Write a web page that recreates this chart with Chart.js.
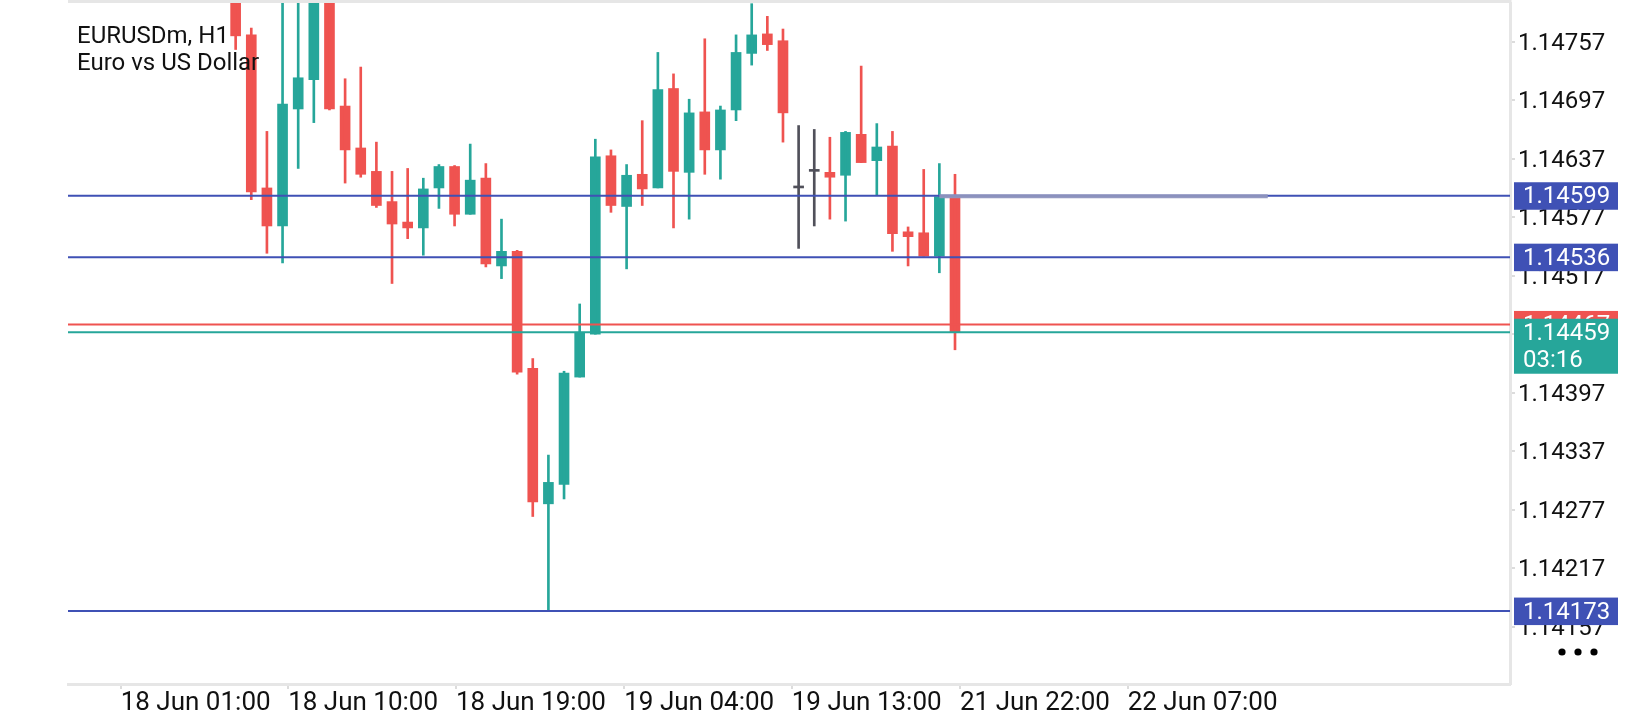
<!DOCTYPE html>
<html>
<head>
<meta charset="utf-8">
<script src="https://cdn.jsdelivr.net/npm/chart.js@4.4.0/dist/chart.umd.min.js"></script>
<style>
  html, body { margin: 0; padding: 0; background: #fff; }
  #chart { display: block; }
</style>
</head>
<body>
<canvas id="chart" width="1640" height="720"></canvas>
<script>
// EURUSDm H1 candles (one entry per hourly bar)
const opens = [1.14820, 1.14764, 1.14607, 1.14568, 1.14688, 1.14718, 1.14815, 1.14691, 1.14648, 1.14624,
  1.14593, 1.14572, 1.14566, 1.14607, 1.14629, 1.14580, 1.14617, 1.14527, 1.14542, 1.14422,
  1.14283, 1.14303, 1.14413, 1.14457, 1.14640, 1.14588, 1.14621, 1.14607, 1.14709, 1.14623,
  1.14685, 1.14646, 1.14687, 1.14745, 1.14765, 1.14758, 1.14607, 1.14624, 1.14623, 1.14620,
  1.14662, 1.14635, 1.14650, 1.14562, 1.14561, 1.14537, 1.14598];
const highs = [1.14830, 1.14771, 1.14665, 1.14810, 1.14815, 1.14825, 1.14822, 1.14719, 1.14731, 1.14654,
  1.14624, 1.14627, 1.14617, 1.14631, 1.14630, 1.14652, 1.14632, 1.14575, 1.14543, 1.14432,
  1.14333, 1.14419, 1.14488, 1.14657, 1.14646, 1.14631, 1.14676, 1.14746, 1.14724, 1.14698,
  1.14760, 1.14691, 1.14764, 1.14796, 1.14783, 1.14770, 1.14671, 1.14667, 1.14659, 1.14665,
  1.14732, 1.14673, 1.14665, 1.14567, 1.14626, 1.14632, 1.14621];
const lows = [1.14749, 1.14595, 1.14540, 1.14530, 1.14627, 1.14674, 1.14687, 1.14612, 1.14618, 1.14587,
  1.14509, 1.14555, 1.14538, 1.14586, 1.14568, 1.14580, 1.14526, 1.14514, 1.14416, 1.14270,
  1.14173, 1.14288, 1.14413, 1.14457, 1.14582, 1.14524, 1.14589, 1.14607, 1.14566, 1.14575,
  1.14621, 1.14616, 1.14676, 1.14733, 1.14748, 1.14654, 1.14545, 1.14568, 1.14575, 1.14573,
  1.14633, 1.14600, 1.14542, 1.14527, 1.14537, 1.14520, 1.14441];
const closes = [1.14763, 1.14603, 1.14568, 1.14693, 1.14720, 1.14812, 1.14688, 1.14646, 1.14621, 1.14589,
  1.14570, 1.14566, 1.14606, 1.14629, 1.14580, 1.14615, 1.14529, 1.14542, 1.14418, 1.14285,
  1.14305, 1.14417, 1.14459, 1.14639, 1.14589, 1.14620, 1.14606, 1.14708, 1.14624, 1.14684,
  1.14646, 1.14687, 1.14746, 1.14764, 1.14754, 1.14684, 1.14607, 1.14624, 1.14618, 1.14664,
  1.14633, 1.14649, 1.14560, 1.14557, 1.14537, 1.14598, 1.14459];

// time axis: label positions in bar slots (bar 0 = first visible candle)
const timeTickPos = [-7.35, 3.36, 14.09, 24.85, 35.56, 46.32, 57.04];
const timeTickLabels = ['18 Jun 01:00', '18 Jun 10:00', '18 Jun 19:00', '19 Jun 04:00',
  '19 Jun 13:00', '21 Jun 22:00', '22 Jun 07:00'];
const visibleFrom = -10.72;
const visibleTo = 81.49;

// price axis
const priceTicks = [1.14157, 1.14217, 1.14277, 1.14337, 1.14397, 1.14457,
  1.14517, 1.14577, 1.14637, 1.14697, 1.14757];
const priceMin = 1.140982;
const priceMax = 1.147967;

// horizontal objects on the chart
const levelPrices = [1.14599, 1.14536, 1.14173];
const askPrice = 1.14467;
const bidPrice = 1.14459;
const barTimeLeft = '03:16';
const trendFrom = 45;
const trendTo = 66;
const trendPrice = 1.14599;

const symbolTitle = ['EURUSDm, H1', 'Euro vs US Dollar'];

const UP = '#26a69a';
const DOWN = '#ef5350';
const FLAT = '#50505a';
const LEVEL = '#3f51b5';
const FRAME = '#e6e6e6';
const FONT = 'Roboto';

const idx = opens.map((_, i) => i);
const candleColors = idx.map(i => closes[i] > opens[i] ? UP : (closes[i] < opens[i] ? DOWN : FLAT));

const overlay = {
  id: 'overlay',
  afterDatasetsDraw(chart) {
    const { ctx, chartArea: area, scales: { x, y } } = chart;
    ctx.save();
    ctx.beginPath();
    ctx.rect(area.left, area.top, area.right - area.left, area.bottom - area.top);
    ctx.clip();

    const hline = (price, color, width) => {
      const py = y.getPixelForValue(price);
      ctx.strokeStyle = color;
      ctx.lineWidth = width;
      ctx.beginPath();
      ctx.moveTo(area.left, py);
      ctx.lineTo(area.right, py);
      ctx.stroke();
    };
    levelPrices.forEach(p => hline(p, LEVEL, 2));
    hline(askPrice, DOWN, 2);
    hline(bidPrice, UP, 2);

    // trend line object
    const ty = y.getPixelForValue(trendPrice);
    ctx.strokeStyle = 'rgba(142,148,190,0.95)';
    ctx.lineWidth = 4;
    ctx.beginPath();
    ctx.moveTo(x.getPixelForValue(trendFrom), ty + 0.5);
    ctx.lineTo(x.getPixelForValue(trendTo), ty + 0.5);
    ctx.stroke();
    ctx.restore();

    // symbol caption
    ctx.save();
    ctx.fillStyle = '#111';
    ctx.font = '24px ' + FONT;
    ctx.textBaseline = 'alphabetic';
    ctx.fillText(symbolTitle[0], area.left + 9, 43);
    ctx.fillText(symbolTitle[1], area.left + 9, 70);
    ctx.restore();
  },
  afterDraw(chart) {
    const { ctx, chartArea: area, scales: { y } } = chart;
    ctx.save();
    // top frame line
    ctx.strokeStyle = FRAME;
    ctx.lineWidth = 3;
    ctx.beginPath();
    ctx.moveTo(area.left, 1.5);
    ctx.lineTo(area.right + 1.5, 1.5);
    ctx.stroke();

    const box = (price, lines, color) => {
      const py = y.getPixelForValue(price);
      const lh = 27.5;
      ctx.fillStyle = color;
      ctx.fillRect(area.right + 4, py - 13.5, 104, lh * lines.length);
      ctx.fillStyle = '#fff';
      ctx.font = '24px ' + FONT;
      ctx.textBaseline = 'middle';
      ctx.textAlign = 'left';
      lines.forEach((t, k) => ctx.fillText(t, area.right + 13, py + 1.5 + k * lh));
    };
    levelPrices.forEach(p => box(p, [p.toFixed(5)], LEVEL));
    box(askPrice, [askPrice.toFixed(5)], DOWN);
    box(bidPrice, [bidPrice.toFixed(5), barTimeLeft], UP);

    // menu dots
    ctx.fillStyle = '#000';
    [52, 68, 84].forEach(dx => {
      ctx.beginPath();
      ctx.arc(area.right + dx, 652, 3.6, 0, Math.PI * 2);
      ctx.fill();
    });
    ctx.restore();
  }
};

new Chart(document.getElementById('chart'), {
  type: 'bar',
  data: {
    datasets: [
      {
        label: 'wicks',
        data: idx.map(i => ({ x: i, y: [lows[i], highs[i]] })),
        backgroundColor: candleColors,
        barThickness: 2,
        grouped: false,
        clip: 0
      },
      {
        label: 'bodies',
        data: idx.map(i => ({ x: i, y: [opens[i], closes[i]] })),
        backgroundColor: candleColors,
        barThickness: 10,
        minBarLength: 2,
        grouped: false,
        clip: 0
      }
    ]
  },
  options: {
    responsive: false,
    animation: false,
    devicePixelRatio: 1,
    layout: { padding: { left: 68, top: 3, right: 0, bottom: 0 } },
    plugins: {
      legend: { display: false },
      tooltip: { enabled: false },
      title: { display: false }
    },
    scales: {
      x: {
        type: 'linear',
        min: visibleFrom,
        max: visibleTo,
        offset: false,
        grid: { offset: false, drawOnChartArea: false, drawTicks: true, tickLength: 5, color: '#dcdcdc', lineWidth: 2 },
        border: { display: true, color: FRAME, width: 3 },
        afterBuildTicks: s => { s.ticks = timeTickPos.map(v => ({ value: v })); },
        afterFit: s => { s.height = 36; s.paddingLeft = 0; s.paddingRight = 0; },
        ticks: {
          autoSkip: false,
          maxRotation: 0,
          minRotation: 0,
          align: 'start',
          padding: 1,
          color: '#111',
          font: { family: FONT, size: 26, lineHeight: 1 },
          callback: (v, i) => timeTickLabels[i]
        }
      },
      y: {
        type: 'linear',
        position: 'right',
        min: priceMin,
        max: priceMax,
        grid: { drawOnChartArea: false, drawTicks: true, tickLength: 5, color: '#dcdcdc', lineWidth: 2 },
        border: { display: true, color: FRAME, width: 3 },
        afterBuildTicks: s => { s.ticks = priceTicks.map(v => ({ value: v })); },
        afterFit: s => { s.width = 130; s.paddingTop = 0; s.paddingBottom = 0; },
        ticks: {
          padding: 3,
          labelOffset: 2,
          color: '#111',
          font: { family: FONT, size: 24 },
          callback: v => Number(v).toFixed(5)
        }
      }
    }
  },
  plugins: [overlay]
});
</script>
</body>
</html>
